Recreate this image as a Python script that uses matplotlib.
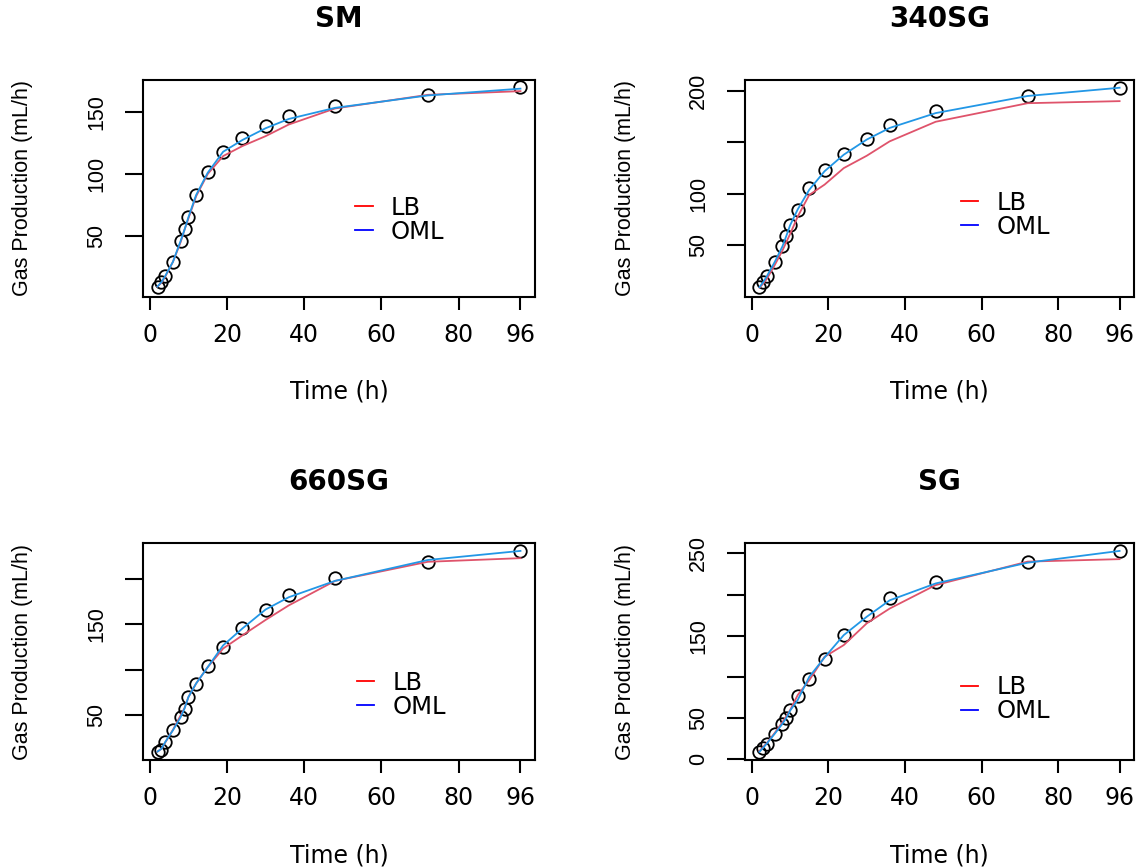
import matplotlib
matplotlib.use("Agg")
import matplotlib.pyplot as plt
from matplotlib.lines import Line2D

# sampling times (h)
times = [2, 3, 4, 6, 8, 9, 10, 12, 15, 19, 24, 30, 36, 48, 72, 96]

# observed gas production and fitted curves, one set per substrate
sm_obs = [8.3, 12.4, 17.7, 28.5, 46, 55.4, 65.3, 82.8, 101.6, 118, 128.8, 138.4, 146.8, 154.8, 164.2, 170.2]
sm_lb = [9, 12, 17, 29, 45, 55, 64, 82, 100, 114.5, 122.6, 130.6, 140, 153, 164, 167]
sm_oml = [9, 12.5, 17.5, 29, 46, 55, 65, 83, 101, 118, 127.5, 137, 144.5, 153.5, 163.5, 169]

sg340_obs = [9.5, 14.3, 20.7, 33.6, 49.7, 59.4, 69.7, 84.1, 105.4, 123.1, 139.2, 153.7, 167.2, 180, 195.2, 203.2]
sg340_lb = [9, 13, 18, 31, 45, 53, 61, 78, 99, 109, 125, 137, 151, 170, 188, 190]
sg340_oml = [9.5, 14.5, 20.5, 34, 49, 59, 69.5, 85, 104, 122, 138, 152.7, 164, 178.4, 195, 203]

sg660_obs = [9.6, 12.1, 20.6, 33.5, 48.2, 57.4, 70.2, 84.9, 104.4, 125.4, 145.6, 165.8, 182.4, 201.5, 219.1, 230.9]
sg660_lb = [10, 13, 20, 34, 50, 58, 70, 85, 103, 123.5, 138, 155, 171, 198, 219, 223]
sg660_oml = [10, 13, 20.5, 33.5, 48, 57.5, 70, 85, 103, 127, 145.6, 166.5, 180, 198, 221, 231]

sg_obs = [8.9, 14.2, 19, 31.2, 43.4, 50.2, 59.6, 77, 97.2, 121.6, 150.7, 175, 195.3, 215.6, 239.9, 252.8]
sg_lb = [10, 15, 20, 32, 45, 52, 59.6, 78, 96, 124.4, 138.6, 165, 183, 211.5, 240, 243]
sg_oml = [9, 14, 19.5, 31, 43, 50, 59, 72, 100, 123.6, 150.7, 173, 193, 213.5, 238.7, 253]

titles = ["SM", "340SG", "660SG", "SG"]
x_ticks = [0, 20, 40, 60, 80, 96]
y_ticks = [[50, 100, 150], [50, 100, 150, 200], [50, 100, 150, 200], [0, 50, 100, 150, 200, 250]]
y_labels = [["50", "100", "150"], ["50", "100", "", "200"], ["50", "", "150", ""],
            ["0", "50", "", "150", "", "250"]]
y_lims = [(0.5, 176), (0, 210.5), (0.7, 239.7), (-0.9, 262.6)]

panels = [(sm_obs, sm_lb, sm_oml), (sg340_obs, sg340_lb, sg340_oml),
          (sg660_obs, sg660_lb, sg660_oml), (sg_obs, sg_lb, sg_oml)]

W, H = 1136, 868
# axes boxes in pixels: left, top, right, bottom
boxes = [(143, 80, 535, 297), (745, 80, 1134, 297), (143, 543, 535, 760), (745, 543, 1134, 760)]
legend_pos = [(0.541, 0.357), (0.555, 0.378), (0.545, 0.30), (0.555, 0.281)]

plt.rcParams["font.family"] = "DejaVu Sans"
fig = plt.figure(figsize=(W / 100, H / 100), dpi=100)

for i, (obs, lb, oml) in enumerate(panels):
    l, t, r, b = boxes[i]
    ax = fig.add_axes([l / W, 1 - b / H, (r - l) / W, (b - t) / H])
    ax.plot(times, obs, "o", mfc="none", mec="black", ms=9, mew=1.3)
    ax.plot(times, lb, color="#DF536B", lw=1.3)
    ax.plot(times, oml, color="#2297E6", lw=1.3)
    ax.set_xlim(-1.76, 99.76)
    ax.set_ylim(*y_lims[i])
    for s in ax.spines.values():
        s.set_linewidth(1.5)
    ax.set_xticks(x_ticks)
    ax.set_xticklabels([str(v) for v in x_ticks], fontsize=17)
    ax.set_yticks(y_ticks[i])
    ax.set_yticklabels(y_labels[i], rotation=90, va="center", fontsize=15.5, family="Liberation Sans")
    ax.tick_params(axis="x", length=9.5, width=1.5, pad=9)
    ax.tick_params(axis="y", length=13, width=1.5, pad=13)
    ax.set_xlabel("Time (h)", fontsize=17)
    ax.xaxis.set_label_coords(0.5, -95 / (b - t))
    ax.xaxis.label.set_va("center")
    ax.set_ylabel("Gas Production (mL/h)", fontsize=15.5, family="Liberation Sans")
    ax.yaxis.set_label_coords(-120 / (r - l), 0.5)
    ax.yaxis.label.set_va("center")
    ax.set_title(titles[i], fontsize=20, fontweight="bold", y=1 + 53 / (b - t), va="center")
    handles = [Line2D([], [], color="red", lw=1.3), Line2D([], [], color="blue", lw=1.3)]
    ax.legend(handles, ["LB", "OML"], loc="center left", bbox_to_anchor=legend_pos[i],
              frameon=False, fontsize=17.5, borderpad=0, borderaxespad=0,
              handlelength=0.72, handletextpad=0.76, labelspacing=0.0)

fig.savefig("out.png", dpi=100)
